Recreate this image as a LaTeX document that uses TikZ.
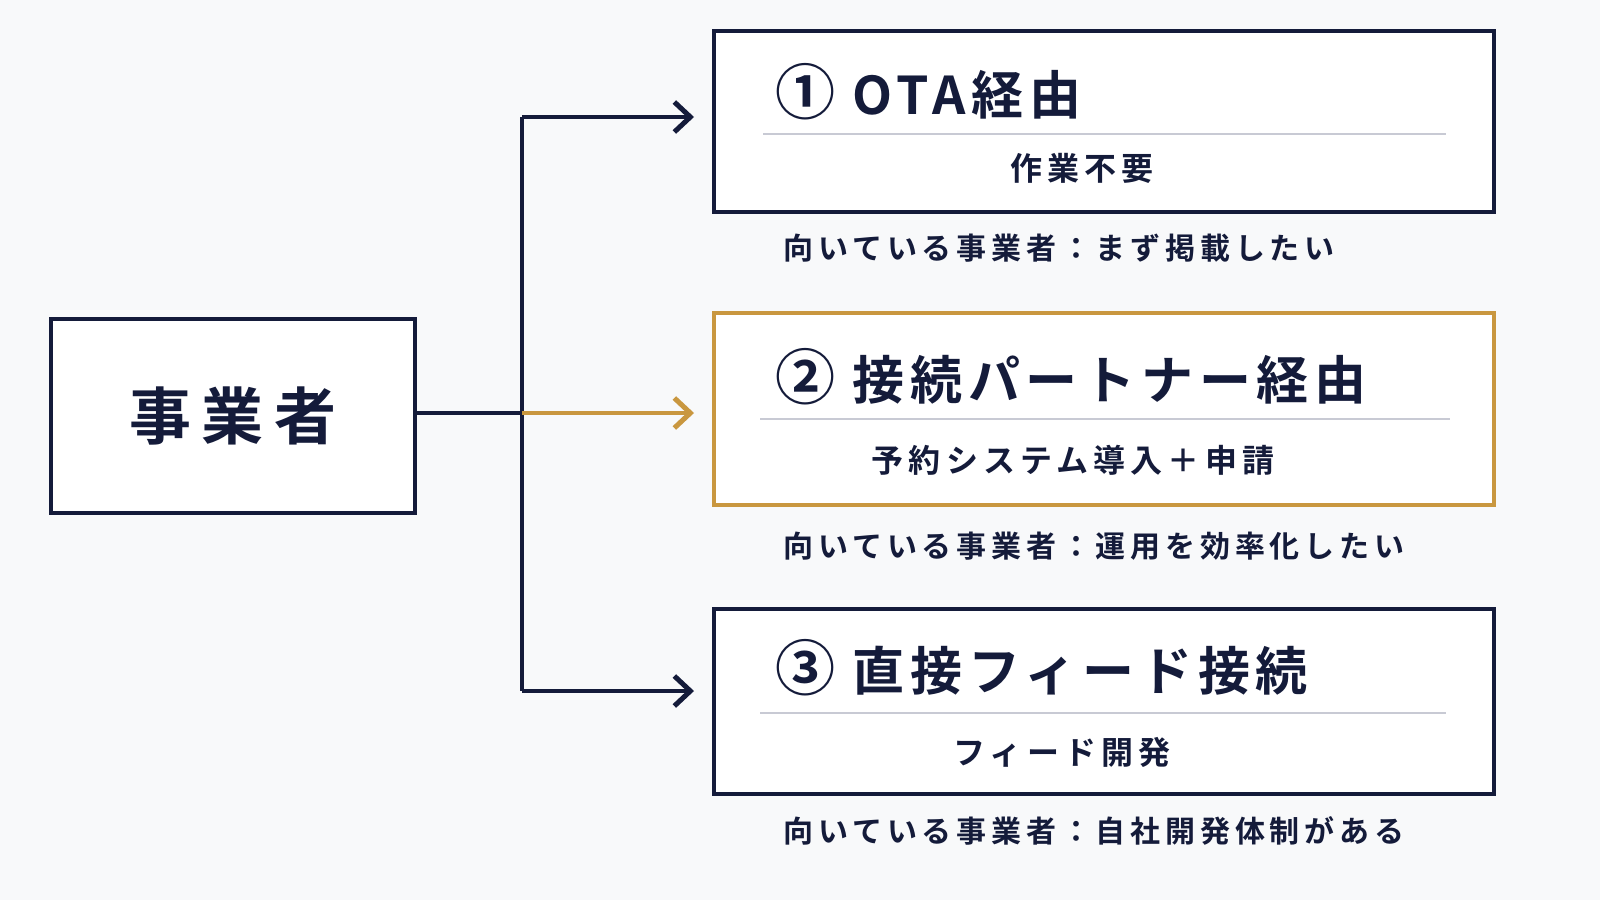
\documentclass[tikz,border=0pt]{standalone}
\usepackage{fontspec}
\newfontfamily\cjkb{Noto Sans CJK JP Bold}
\newfontfamily\cjkt{Noto Sans CJK JP Bold}[LetterSpace=11]
\newfontfamily\cjks{Noto Sans CJK JP Bold}[LetterSpace=16]
\usetikzlibrary{arrows.meta}
\definecolor{navy}{HTML}{141B3A}
\definecolor{gold}{HTML}{C9973F}
\definecolor{bg}{HTML}{F8F9FA}
\definecolor{sep}{HTML}{C8CAD4}
\begin{document}
\begin{tikzpicture}[x=1pt,y=-1pt,
  box/.style={draw=navy,line width=3.5pt,fill=white},
  gbox/.style={draw=gold,line width=3.5pt,fill=white},
  title/.style={anchor=west,text=navy,font=\cjkt\fontsize{52}{60}\selectfont},
  sub/.style={text=navy,font=\cjks\fontsize{32}{38}\selectfont},
  captxt/.style={anchor=west,text=navy,font=\cjks\fontsize{30}{36}\selectfont},
  arr/.style={line width=3.5pt,-{Straight Barb[length=16pt,width=30pt,line width=5pt]}},
  sepl/.style={draw=sep,line width=2pt}]
\fill[bg] (0,0) rectangle (1600,900);
\useasboundingbox (0,0) rectangle (1600,900);
\draw[box] (51,319) rectangle (415,513);
\node[text=navy,font=\cjkb\fontsize{62}{70}\selectfont] (src) at (233,416) {事\,業\,者};
\draw[box] (714,31) rectangle (1494,212);
\draw[gbox] (714,313) rectangle (1494,505);
\draw[box] (714,609) rectangle (1494,794);
\coordinate (s) at (415,413);
\coordinate (j) at (522,413);
\coordinate (t1) at (522,117);
\coordinate (t3) at (522,691);
\coordinate (e1) at (694,117);
\coordinate (e2) at (694,413);
\coordinate (e3) at (694,691);
\draw[navy,line width=3.5pt] (s) -- (j);
\draw[navy,line width=3.5pt] (t1) -- (t3);
\draw[arr,navy] (t1) -- (e1);
\draw[arr,navy] (t3) -- (e3);
\draw[arr,gold] (j) -- (e2);
\draw[sepl] (763,134) -- (1446,134);
\draw[sepl] (760,419) -- (1450,419);
\draw[sepl] (760,713) -- (1446,713);
\node[title] (h1) at (772,92) {{\fontsize{60}{60}\selectfont ①}\,\,OTA経由};
\node[sub] (b1) at (1082,168) {作業不要};
\node[title] (h2) at (772,377) {{\fontsize{60}{60}\selectfont ②}\,\,接続パートナー経由};
\node[sub] (b2) at (1073,460) {予約システム導入＋申請};
\node[title] (h3) at (772,668) {{\fontsize{60}{60}\selectfont ③}\,\,直接フィード接続};
\node[sub] (b3) at (1062,752) {フィード開発};
\node[captxt] (c1) at (780,248) {向いている事業者：まず掲載したい};
\node[captxt] (c2) at (780,546) {向いている事業者：運用を効率化したい};
\node[captxt] (c3) at (780,831) {向いている事業者：自社開発体制がある};
\end{tikzpicture}
\end{document}
